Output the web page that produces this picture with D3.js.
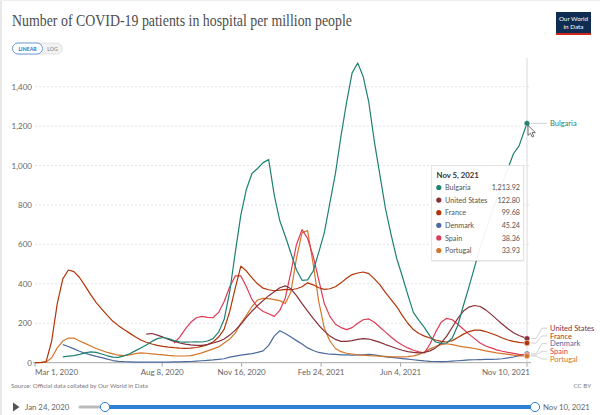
<!DOCTYPE html>
<html>
<head>
<meta charset="utf-8">
<script src="https://cdn.jsdelivr.net/npm/d3@7"></script>
<style>
  body { margin: 0; background: #fff; }
  svg { display: block; font-family: Lato, "Noto Sans", sans-serif; }
</style>
</head>
<body>
<svg id="chart" width="600" height="415"></svg>
<script>
// weekly readings from Mar 1, 2020, last one is Nov 10, 2021
const firstWeek = new Date(2020, 2, 1)
const lastDay = new Date(2021, 10, 10)
const dates = d3.range(89).map(i => d3.timeDay.offset(firstWeek, i * 7)).concat([lastDay])

const countries = ["Bulgaria", "United States", "France", "Denmark", "Spain", "Portugal"]
const colors = ["#1f8170", "#883039", "#b13507", "#4c6a9c", "#dc3b55", "#d4762a"]

const bulgaria = [null, null, null, null, null, 30, 33, 36, 42, 50,
  55, 52, 44, 35, 28, 27, 35, 45, 60, 75,
  90, 108, 122, 128, 122, 112, 106, 104, 105, 106,
  105, 110, 122, 155, 220, 360, 560, 750, 880, 960,
  985, 1015, 1030, 850, 720, 640, 555, 470, 418, 420,
  465, 560, 660, 810, 960, 1150, 1320, 1470, 1520, 1450,
  1320, 1120, 950, 780, 650, 530, 440, 345, 255, 215,
  178, 135, 105, 98, 100, 125, 190, 290, 385, 485,
  585, 670, 750, 830, 910, 985, 1060, 1100, 1180, 1213.92]

const unitedStates = [null, null, null, null, null, null, null, null, null, null,
  null, null, null, null, null, null, null, null, null, null,
  145, 148, 140, 130, 118, 108, 100, 94, 90, 88,
  88, 92, 100, 108, 120, 140, 165, 195, 230, 262,
  290, 315, 340, 360, 380, 390, 375, 340, 300, 262,
  225, 190, 160, 135, 118, 108, 108, 112, 118, 122,
  120, 112, 103, 92, 82, 72, 63, 56, 52, 50,
  52, 60, 75, 100, 135, 180, 225, 262, 282, 290,
  285, 268, 245, 220, 195, 172, 152, 138, 127, 122.8]

const france = [0, 1, 5, 110, 300, 425, 470, 462, 432, 390,
  345, 305, 272, 240, 210, 188, 168, 150, 132, 115,
  104, 95, 88, 83, 79, 76, 74, 73, 74, 77,
  83, 92, 105, 130, 170, 260, 380, 490, 465, 430,
  400, 378, 370, 365, 368, 372, 370, 375, 385, 405,
  395, 380, 372, 375, 385, 405, 428, 447, 455, 460,
  452, 425, 395, 355, 320, 285, 240, 200, 168, 148,
  135, 125, 115, 108, 105, 112, 128, 145, 158, 165,
  165, 158, 148, 138, 125, 115, 108, 103, 100, 99.68]

const denmark = [null, null, null, null, null, 92, 82, 70, 58, 48,
  40, 32, 26, 18, 11, 7, 5, 4, 3, 3,
  3, 3, 3, 3, 3, 4, 4, 5, 6, 8,
  10, 12, 14, 17, 20, 28, 33, 38, 42, 46,
  52, 60, 88, 135, 162, 148, 130, 112, 95, 75,
  62, 52, 47, 43, 42, 40, 40, 38, 40, 40,
  42, 40, 35, 30, 27, 24, 21, 18, 15, 12,
  9, 7, 6, 5, 6, 8, 10, 12, 14, 15,
  16, 17, 17, 18, 20, 24, 29, 36, 42, 45.24]

const spain = [null, null, null, null, null, null, null, null, null, null,
  null, null, null, null, null, null, null, null, null, null,
  null, null, null, null, null, 100, 130, 170, 205, 228,
  235, 230, 228, 255, 310, 385, 440, 440, 385, 320,
  282, 260, 248, 235, 265, 330, 460, 600, 675, 630,
  540, 420, 300, 235, 195, 178, 168, 178, 200, 218,
  222, 205, 180, 155, 130, 108, 90, 75, 63, 55,
  50, 95, 155, 205, 225, 218, 195, 170, 145, 122,
  100, 85, 75, 65, 58, 52, 47, 42, 39, 38.36]

const portugal = [0, 0, 3, 25, 75, 110, 125, 125, 110, 98,
  85, 72, 62, 52, 45, 38, 36, 40, 46, 50,
  48, 45, 42, 40, 37, 35, 34, 34, 36, 42,
  50, 60, 70, 80, 100, 120, 150, 200, 240, 285,
  318, 326, 325, 320, 315, 300, 360, 530, 660, 670,
  500, 310, 175, 110, 72, 56, 48, 44, 40, 38,
  36, 34, 33, 32, 30, 30, 30, 31, 35, 42,
  55, 70, 82, 92, 96, 92, 85, 80, 76, 72,
  66, 60, 55, 50, 46, 42, 38, 35, 34, 33.93]

const seriesValues = [bulgaria, unitedStates, france, denmark, spain, portugal]
const yTicks = [0, 200, 400, 600, 800, 1000, 1200, 1400]
const xTicks = [new Date(2020, 2, 1), new Date(2020, 7, 8), new Date(2020, 10, 16),
  new Date(2021, 1, 24), new Date(2021, 5, 4), new Date(2021, 10, 10)]
const tooltipDate = "Nov 5, 2021"

const svg = d3.select("#chart")

// frame edges
svg.append("rect").attr("x", 0).attr("y", 0).attr("width", 2).attr("height", 415).attr("fill", "#e8e8e8")
svg.append("rect").attr("x", 0).attr("y", 0).attr("width", 600).attr("height", 1).attr("fill", "#eeeeee")

// header
svg.append("text")
   .attr("x", 12).attr("y", 26)
   .attr("font-family", "'Liberation Serif', 'DejaVu Serif', serif")
   .attr("font-size", 17)
   .attr("fill", "#4d4d4d")
   .attr("textLength", 340)
   .attr("lengthAdjust", "spacingAndGlyphs")
   .text("Number of COVID-19 patients in hospital per million people")

const logo = svg.append("g").attr("transform", "translate(556,12)")
logo.append("rect").attr("width", 35).attr("height", 23).attr("fill", "#0f2d52")
logo.append("rect").attr("y", 21).attr("width", 35).attr("height", 2).attr("fill", "#ce261e")
logo.append("text").attr("x", 17.5).attr("y", 9).attr("text-anchor", "middle")
    .attr("font-size", 6.3).attr("fill", "#fff").text("Our World")
logo.append("text").attr("x", 17.5).attr("y", 16.5).attr("text-anchor", "middle")
    .attr("font-size", 6.3).attr("fill", "#fff").text("in Data")

// linear / log toggle
const toggle = svg.append("g").attr("transform", "translate(12.5,43)")
toggle.append("rect").attr("width", 50).attr("height", 11).attr("rx", 5.5)
      .attr("fill", "#f2f2f2").attr("stroke", "#dddddd").attr("stroke-width", 0.8)
toggle.append("rect").attr("width", 30).attr("height", 11).attr("rx", 5.5)
      .attr("fill", "#fff").attr("stroke", "#5b93d3").attr("stroke-width", 0.9)
toggle.append("text").attr("x", 15).attr("y", 7.6).attr("text-anchor", "middle")
      .attr("font-size", 5.2).attr("font-weight", "bold").attr("fill", "#2f6fb5").text("LINEAR")
toggle.append("text").attr("x", 40).attr("y", 7.6).attr("text-anchor", "middle")
      .attr("font-size", 5.2).attr("fill", "#777").text("LOG")

// scales
const x = d3.scaleTime().domain([firstWeek, lastDay]).range([35, 527])
const y = d3.scaleLinear().domain([0, 1400]).range([362.7, 86.7])

// grid + y labels
svg.append("g")
   .selectAll("line")
   .data(yTicks.slice(1))
   .enter()
   .append("line")
   .attr("x1", 35).attr("x2", 531)
   .attr("y1", d => y(d)).attr("y2", d => y(d))
   .attr("stroke", "#dcdcdc")
   .attr("stroke-dasharray", "2,2")
   .attr("stroke-width", 0.8)

svg.append("g")
   .selectAll("text")
   .data(yTicks)
   .enter()
   .append("text")
   .attr("x", 32)
   .attr("y", d => y(d) + 3)
   .attr("text-anchor", "end")
   .attr("font-size", 8)
   .attr("fill", "#666")
   .text(d => d3.format(",")(d))

// x axis
svg.append("line")
   .attr("x1", 33).attr("x2", 531)
   .attr("y1", y(0)).attr("y2", y(0))
   .attr("stroke", "#a8a8a8").attr("stroke-width", 1)

svg.append("g")
   .selectAll("line")
   .data(xTicks)
   .enter()
   .append("line")
   .attr("x1", d => x(d)).attr("x2", d => x(d))
   .attr("y1", y(0)).attr("y2", y(0) + 4)
   .attr("stroke", "#a8a8a8")

const fmtDate = d3.timeFormat("%b %-d, %Y")
svg.append("g")
   .selectAll("text")
   .data(xTicks)
   .enter()
   .append("text")
   .attr("x", (d, i) => i === xTicks.length - 1 ? x(d) + 3 : x(d))
   .attr("y", 375)
   .attr("text-anchor", (d, i) => i === 0 ? "start" : i === xTicks.length - 1 ? "end" : "middle")
   .attr("font-size", 8)
   .attr("fill", "#666")
   .text(d => fmtDate(d))

// hover line
svg.append("line")
   .attr("x1", x(lastDay)).attr("x2", x(lastDay))
   .attr("y1", 58).attr("y2", y(0))
   .attr("stroke", "#d0d0d0").attr("stroke-width", 0.8)

// lines
const line = d3.line()
  .defined(d => d.v !== null)
  .x(d => x(d.date))
  .y(d => y(d.v))

const series = countries.map((name, k) => ({
  name: name,
  color: colors[k],
  points: dates.map((date, i) => ({ date: date, v: seriesValues[k][i] }))
}))

const drawOrder = [3, 5, 4, 2, 1, 0]
svg.append("g")
   .selectAll("path")
   .data(drawOrder.map(k => series[k]))
   .enter()
   .append("path")
   .attr("d", d => line(d.points))
   .attr("fill", "none")
   .attr("stroke", d => d.color)
   .attr("stroke-width", 1.2)
   .attr("stroke-linejoin", "round")

// end labels with simple collision handling
const ends = series.map(s => {
  const last = s.points[s.points.length - 1]
  return { name: s.name, color: s.color, value: last.v, ey: y(last.v) }
}).sort((a, b) => a.ey - b.ey)

const gap = 7.7
const bottom = 359
ends.forEach((e, i) => {
  e.ly = i === 0 ? e.ey : Math.max(e.ey, ends[i - 1].ly + gap)
})
const overflow = ends[ends.length - 1].ly - bottom
if (overflow > 0) {
  for (let i = ends.length - 1; i > 0; i--) {
    const shifted = ends[i].ly - overflow
    if (i < ends.length - 1 && ends[i + 1].ly - ends[i].ly > gap + 0.01) break
    ends[i].ly = shifted
  }
}

const ex = x(lastDay)
svg.append("g")
   .selectAll("polyline")
   .data(ends)
   .enter()
   .append("polyline")
   .attr("points", d => `${ex + 4},${d.ey} ${ex + 9},${d.ey} ${ex + 15},${d.ly} ${ex + 20},${d.ly}`)
   .attr("fill", "none")
   .attr("stroke", "#c8c8c8")
   .attr("stroke-width", 0.8)

svg.append("g")
   .selectAll("text")
   .data(ends)
   .enter()
   .append("text")
   .attr("x", ex + 23)
   .attr("y", d => d.ly + 2.6)
   .attr("font-size", 7.5)
   .attr("fill", d => d.color)
   .text(d => d.name)

svg.append("g")
   .selectAll("circle")
   .data(ends)
   .enter()
   .append("circle")
   .attr("cx", ex).attr("cy", d => d.ey)
   .attr("r", 2.8)
   .attr("fill", d => d.color)
   .attr("stroke", "#fff")
   .attr("stroke-width", 0.5)

// cursor
svg.append("path")
   .attr("transform", `translate(${ex + 1},${y(1213.92) + 2})`)
   .attr("d", "M0,0 L0,10 L2.4,7.8 L4.2,11.6 L5.8,10.9 L4.1,7.2 L7.3,7.2 Z")
   .attr("fill", "#fff").attr("stroke", "#333").attr("stroke-width", 0.7)

// tooltip
const tip = svg.append("g").attr("transform", "translate(431.5,165.5)")
tip.append("rect").attr("x", 1).attr("y", 1.5).attr("width", 92).attr("height", 95)
   .attr("fill", "#000").attr("opacity", 0.06)
tip.append("rect").attr("width", 92).attr("height", 95)
   .attr("fill", "#fff").attr("fill-opacity", 0.94)
   .attr("stroke", "#dedede").attr("stroke-width", 0.8)
tip.append("text").attr("x", 5).attr("y", 12.5)
   .attr("font-size", 7.8).attr("font-weight", "bold").attr("fill", "#333").text(tooltipDate)

const rows = tip.selectAll("g.row")
  .data(series)
  .enter()
  .append("g")
  .attr("class", "row")
  .attr("transform", (d, i) => `translate(0,${22 + i * 12.6})`)
rows.append("circle").attr("cx", 7.3).attr("cy", 0).attr("r", 2.6).attr("fill", d => d.color)
rows.append("text").attr("x", 13.5).attr("y", 2.6)
    .attr("font-size", 7.2).attr("fill", "#555").text(d => d.name)
rows.append("text").attr("x", 88.5).attr("y", 2.6).attr("text-anchor", "end")
    .attr("font-size", 7.2).attr("fill", "#555")
    .text(d => d3.format(",.2f")(d.points[d.points.length - 1].v))

// footer
svg.append("text").attr("x", 11).attr("y", 388)
   .attr("font-size", 6.2).attr("fill", "#777")
   .text("Source: Official data collated by Our World in Data")
svg.append("text").attr("x", 591).attr("y", 388).attr("text-anchor", "end")
   .attr("font-size", 6.2).attr("fill", "#777").text("CC BY")

// timeline
const ty = 407
svg.append("path").attr("d", `M13,${ty - 4.5} L19.5,${ty} L13,${ty + 4.5} Z`).attr("fill", "#555")
svg.append("text").attr("x", 25).attr("y", ty + 2.8).attr("font-size", 7.8).attr("fill", "#666").text("Jan 24, 2020")
svg.append("line").attr("x1", 80).attr("x2", 105).attr("y1", ty).attr("y2", ty)
   .attr("stroke", "#bbbbbb").attr("stroke-width", 3).attr("stroke-linecap", "round")
svg.append("line").attr("x1", 105).attr("x2", 535).attr("y1", ty).attr("y2", ty)
   .attr("stroke", "#2f7fd4").attr("stroke-width", 4)
svg.selectAll("circle.handle")
   .data([105, 535])
   .enter()
   .append("circle")
   .attr("class", "handle")
   .attr("cx", d => d).attr("cy", ty).attr("r", 4.6)
   .attr("fill", "#fff").attr("stroke", "#2f7fd4").attr("stroke-width", 1)
svg.append("text").attr("x", 543).attr("y", ty + 2.8).attr("font-size", 7.8).attr("fill", "#666").text("Nov 10, 2021")
</script>
</body>
</html>
